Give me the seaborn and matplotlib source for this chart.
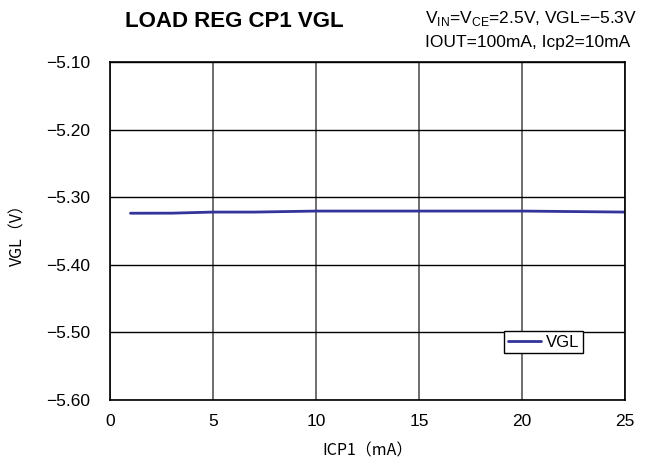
import numpy as np
import pandas as pd
import matplotlib
matplotlib.use('Agg')
import matplotlib.pyplot as plt
import seaborn as sb

# Data
icp1_mA = [1, 3, 5, 7, 10, 15, 20, 25]
vgl_V = [-5.3237, -5.3236, -5.3220, -5.3220, -5.3205, -5.3205, -5.3205, -5.3220]
series_name = 'VGL'
x_ticks = [0, 5, 10, 15, 20, 25]
y_ticks = [-5.60, -5.50, -5.40, -5.30, -5.20, -5.10]

df = pd.DataFrame({'ICP1': icp1_mA, 'VGL': vgl_V, 'Series': series_name})

sb.set_style('white')
plt.rcParams['font.family'] = ['Liberation Sans', 'DejaVu Sans']
plt.rcParams['mathtext.fontset'] = 'custom'
plt.rcParams['mathtext.rm'] = 'Liberation Sans'
plt.rcParams['text.color'] = 'black'
plt.rcParams['axes.labelcolor'] = 'black'

fig = plt.figure(figsize=(6.62, 4.70), dpi=100)
ax = fig.add_axes([0.166, 0.149, 0.778, 0.719])

sb.lineplot(data=df, x='ICP1', y='VGL', hue='Series', palette=['#333399'],
            linewidth=2, ax=ax)

ax.set_xlim(0, 25)
ax.set_ylim(-5.60, -5.10)
ax.set_xticks(x_ticks)
ax.set_yticks(y_ticks)
ax.set_yticklabels(['−%.2f' % abs(v) for v in y_ticks])
ax.tick_params(axis='y', length=0, labelsize=12.5, colors='black', pad=14)
ax.tick_params(axis='x', length=0, labelsize=12.5, colors='black', pad=10)
ax.xaxis.grid(True, color='#555555', linewidth=1.2)
ax.yaxis.grid(True, color='black', linewidth=1)
for s in ax.spines.values():
    s.set_color('black')
    s.set_linewidth(1.2)

ax.set_xlabel('ICP1（mA）', family=['Noto Sans CJK JP', 'DejaVu Sans'], fontsize=11.5, labelpad=10)
ax.set_ylabel('VGL（V）', family=['Noto Sans CJK JP', 'DejaVu Sans'], fontsize=11.5, labelpad=14)

fig.text(0.189, 0.955, 'LOAD REG CP1 VGL', fontsize=16, fontweight='bold', va='center')
fig.text(0.642, 0.960, r'V$_{\mathregular{IN}}$=V$_{\mathregular{CE}}$=2.5V, VGL=−5.3V',
         fontsize=12.5, va='center')
fig.text(0.642, 0.910, 'IOUT=100mA, Icp2=10mA', fontsize=12.5, va='center')

leg = ax.legend(loc='lower right', bbox_to_anchor=(0.918, 0.139), fancybox=False,
                framealpha=1, edgecolor='black', fontsize=12, handlelength=2.0,
                borderpad=0.2, handletextpad=0.3, borderaxespad=0)
leg.get_frame().set_linewidth(1)
for t in leg.get_texts():
    t.set_color('black')

fig.savefig('out.png', dpi=100)
